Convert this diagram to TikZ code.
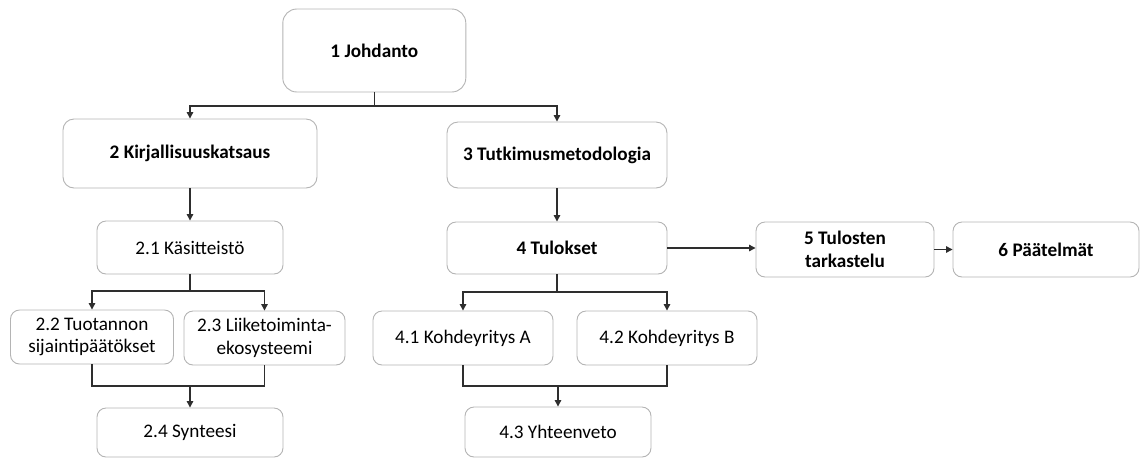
\documentclass[tikz,border=0pt]{standalone}
\usepackage{fontspec}
\setmainfont{Carlito}
\usepackage{xcolor}
\usepackage{tikz}
\usetikzlibrary{positioning, shapes.misc, arrows.meta, calc}

\definecolor{reuna}{HTML}{B4B4B4}
\definecolor{viiva}{HTML}{2E2E2E}

\begin{document}
\begin{tikzpicture}[
    x=1pt, y=-1pt,
    every node/.style={font=\fontsize{19.2}{22.8}\selectfont, text=black},
    laatikko/.style={draw=reuna, line width=0.9pt, fill=white, rectangle, rounded corners=9pt, align=center, inner sep=0pt},
    paa/.style={laatikko, font=\fontsize{19.2}{22.8}\selectfont\bfseries},
    yhteys/.style={draw=viiva, line width=1.2pt},
    nuoli/.style={yhteys, -{Triangle[length=6.5pt, width=6.5pt]}}
]
\useasboundingbox (0,0) rectangle (1141,459);

% pääluvut
\node[paa, minimum width=183pt, minimum height=83pt, rounded corners=14pt] (johdanto) at (374.3,50.5) {1 Johdanto};
\node[paa, minimum width=254pt, minimum height=69pt, rounded corners=11pt] (kirjallisuus) at (190,153.5) {2 Kirjallisuuskatsaus};
\node[paa, minimum width=220pt, minimum height=66pt, rounded corners=11pt] (metodologia) at (557,155) {3 Tutkimusmetodologia};
\node[paa, minimum width=220pt, minimum height=52pt] (tulokset) at (557,248) {4 Tulokset};
\node[paa, minimum width=178pt, minimum height=55pt] (tarkastelu) at (845,249.5) {5 Tulosten\\tarkastelu};
\node[paa, minimum width=186pt, minimum height=55pt] (paatelmat) at (1046,249.5) {6 Päätelmät};

% luvun 2 alaluvut
\node[laatikko, minimum width=186pt, minimum height=53pt] (kasitteisto) at (190,247.5) {2.1 Käsitteistö};
\node[laatikko, minimum width=163pt, minimum height=54pt] (sijainti) at (92,337) {2.2 Tuotannon\\sijaintipäätökset};
\node[laatikko, minimum width=161pt, minimum height=54pt] (ekosysteemi) at (264.5,338) {2.3 Liiketoiminta-\\ekosysteemi};
\node[laatikko, minimum width=186pt, minimum height=49pt] (synteesi) at (190,432.5) {2.4 Synteesi};

% luvun 4 alaluvut
\node[laatikko, minimum width=180pt, minimum height=54pt] (kohdeA) at (463,338) {4.1 Kohdeyritys A};
\node[laatikko, minimum width=180pt, minimum height=54pt] (kohdeB) at (667,338) {4.2 Kohdeyritys B};
\node[laatikko, minimum width=186pt, minimum height=50pt] (yhteenveto) at (558,432) {4.3 Yhteenveto};

% liitoskohdat
\coordinate (haara1) at (374.3,106);
\coordinate (haara2) at (190,291);
\coordinate (yhdys2) at (190,386);
\coordinate (haara4) at (557,292);
\coordinate (yhdys4) at (558,386);

% yhteydet
\draw[yhteys] (johdanto.south) -- (haara1);
\draw[nuoli] (haara1) -| (kirjallisuus.north);
\draw[nuoli] (haara1) -| (metodologia.north);
\draw[nuoli] (kirjallisuus.south) -- (kasitteisto.north);
\draw[nuoli] (metodologia.south) -- (tulokset.north);

\draw[yhteys] (kasitteisto.south) -- (haara2);
\draw[nuoli] (haara2) -| (sijainti.north);
\draw[nuoli] (haara2) -| (ekosysteemi.north);
\draw[yhteys] (sijainti.south) |- (yhdys2) -| (ekosysteemi.south);
\draw[nuoli] (yhdys2) -- (synteesi.north);

\draw[yhteys] (tulokset.south) -- (haara4);
\draw[nuoli] (haara4) -| (kohdeA.north);
\draw[nuoli] (haara4) -| (kohdeB.north);
\draw[yhteys] (kohdeA.south) |- (yhdys4) -| (kohdeB.south);
\draw[nuoli] (yhdys4) -- (yhteenveto.north);

\draw[nuoli] (tulokset.east) -- (tulokset.east -| tarkastelu.west);
\draw[nuoli] (tarkastelu.east) -- (paatelmat.west);

\end{tikzpicture}
\end{document}
